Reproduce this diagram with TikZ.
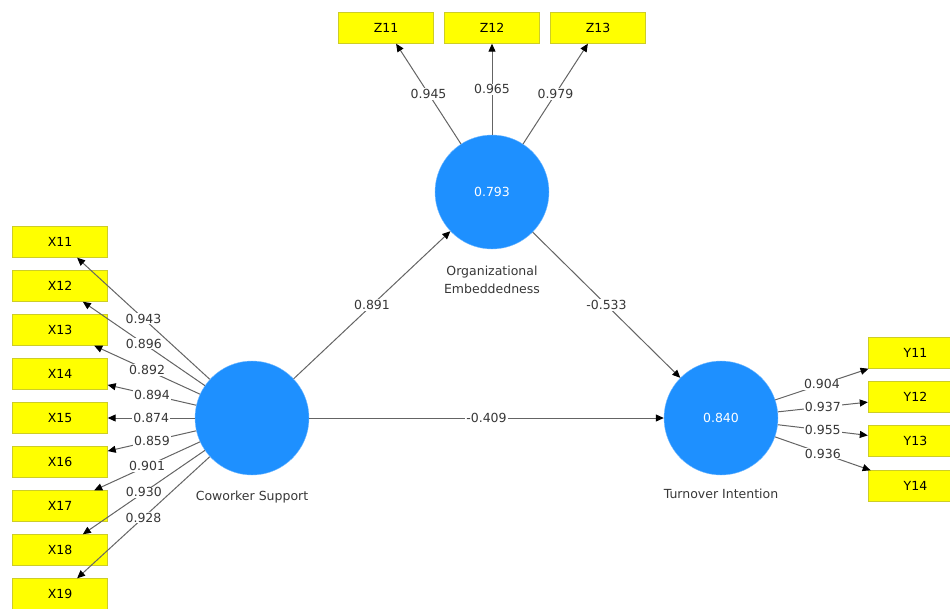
\documentclass[tikz,border=0pt]{standalone}
\usepackage{fontspec}
\setmainfont{DejaVu Sans}
\usetikzlibrary{arrows.meta,positioning}
\definecolor{lvblue}{RGB}{30,144,255}
\definecolor{indyellow}{RGB}{255,255,0}
\definecolor{indborder}{RGB}{205,205,40}
\definecolor{pathgray}{RGB}{100,100,100}
\definecolor{valgray}{RGB}{55,55,55}

\begin{document}
\begin{tikzpicture}[x=1pt,y=-1pt,
  font=\fontsize{12.5}{18}\selectfont,
  ind/.style={draw=indborder,fill=indyellow,minimum width=95pt,minimum height=31pt,inner sep=0pt,text=black},
  lv/.style={circle,fill=lvblue,draw=lvblue!60,minimum size=114pt,inner sep=0pt,text=white},
  lvname/.style={inner sep=0pt,text=valgray,align=center},
  conn/.style={draw=pathgray,line width=1pt,-{Triangle[color=black,length=8pt,width=7pt]}},
  coef/.style={pos=.5,fill=white,inner sep=1pt,text=valgray}]
\useasboundingbox (0,0) rectangle (950,608);

% latent variables
\node[lv] (cs) at (252,418) {};
\node[lv] (oe) at (492,192) {0.793};
\node[lv] (ti) at (721,418) {0.840};
\node[lvname,below=16pt of cs] {Coworker Support};
\node[lvname,below=17pt of oe] {Organizational\\Embeddedness};
\node[lvname,below=14pt of ti] {Turnover Intention};

% indicators
\foreach \n [count=\i] in {11,...,19}
  \node[ind] (x\n) at (60,198+44*\i) {X\n};
\node[ind] (z11) at (386,28) {Z11};
\node[ind] (z12) at (492,28) {Z12};
\node[ind] (z13) at (598,28) {Z13};
\node[ind] (y11) at (915.5,353) {Y11};
\node[ind] (y12) at (915.5,397) {Y12};
\node[ind] (y13) at (915.5,441) {Y13};
\node[ind] (y14) at (915.5,486) {Y14};

% outer loadings
\foreach \n/\v in {11/0.943,12/0.896,13/0.892,14/0.894,15/0.874,16/0.859,17/0.901,18/0.930,19/0.928}
  \draw[conn] (cs) -- node[coef] {\v} (x\n);
\foreach \n/\v in {11/0.945,12/0.965,13/0.979}
  \draw[conn] (oe) -- node[coef] {\v} (z\n);
\foreach \n/\v in {11/0.904,12/0.937,13/0.955,14/0.936}
  \draw[conn] (ti) -- node[coef] {\v} (y\n);

% path coefficients
\draw[conn] (cs) -- node[coef] {0.891} (oe);
\draw[conn] (oe) -- node[coef] {-0.533} (ti);
\draw[conn] (cs) -- node[coef] {-0.409} (ti);
\end{tikzpicture}
\end{document}
